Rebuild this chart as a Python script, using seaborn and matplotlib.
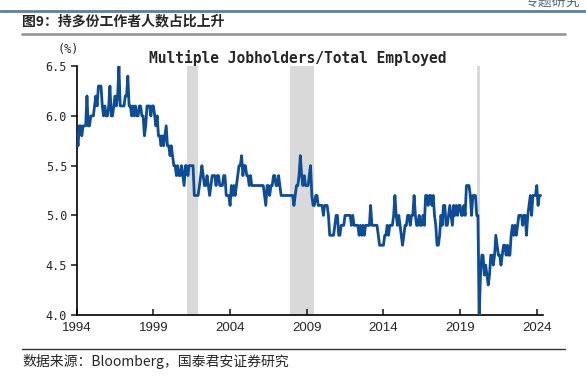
import pandas as pd
import matplotlib.pyplot as plt
import matplotlib.lines as mlines
import seaborn as sns

# monthly share of multiple jobholders in total employed (%)
y1994 = [5.8, 5.7, 5.9, 5.9, 5.8, 5.9, 5.9, 5.9, 6.2, 5.9, 5.9, 6.0]
y1995 = [6.0, 6.0, 6.1, 6.2, 6.1, 6.3, 6.3, 6.3, 6.1, 6.0, 6.1, 6.0]
y1996 = [6.0, 6.1, 6.3, 6.0, 6.0, 6.1, 6.2, 6.1, 6.2, 6.5, 6.1, 6.1]
y1997 = [6.1, 6.1, 6.2, 6.2, 6.4, 6.1, 6.1, 6.0, 6.1, 6.0, 6.1, 6.0]
y1998 = [6.0, 6.1, 6.1, 6.0, 6.0, 5.8, 5.9, 6.1, 6.1, 6.1, 6.0, 6.1]
y1999 = [6.1, 6.0, 5.9, 6.0, 5.8, 5.8, 5.7, 5.8, 5.7, 5.8, 5.9, 5.7]
y2000 = [5.7, 5.6, 5.7, 5.6, 5.5, 5.5, 5.4, 5.5, 5.4, 5.4, 5.5, 5.4]
y2001 = [5.3, 5.5, 5.5, 5.4, 5.5, 5.5, 5.5, 5.5, 5.2, 5.2, 5.2, 5.2]
y2002 = [5.3, 5.4, 5.5, 5.4, 5.3, 5.3, 5.4, 5.3, 5.2, 5.3, 5.4, 5.4]
y2003 = [5.4, 5.3, 5.4, 5.4, 5.3, 5.3, 5.3, 5.4, 5.4, 5.2, 5.2, 5.2]
y2004 = [5.1, 5.3, 5.2, 5.3, 5.2, 5.3, 5.4, 5.5, 5.5, 5.6, 5.4, 5.5]
y2005 = [5.5, 5.4, 5.4, 5.3, 5.4, 5.3, 5.3, 5.3, 5.3, 5.3, 5.3, 5.3]
y2006 = [5.3, 5.3, 5.3, 5.2, 5.1, 5.3, 5.3, 5.2, 5.3, 5.3, 5.4, 5.4]
y2007 = [5.3, 5.3, 5.4, 5.3, 5.2, 5.2, 5.2, 5.2, 5.2, 5.2, 5.2, 5.2]
y2008 = [5.2, 5.2, 5.1, 5.2, 5.3, 5.3, 5.4, 5.6, 5.4, 5.3, 5.4, 5.3]
y2009 = [5.3, 5.3, 5.4, 5.5, 5.2, 5.1, 5.1, 5.2, 5.2, 5.1, 5.1, 5.1]
y2010 = [5.1, 5.0, 5.1, 5.1, 5.1, 5.0, 4.8, 4.8, 4.8, 4.8, 4.9, 5.0]
y2011 = [5.0, 4.8, 4.8, 4.9, 4.9, 4.9, 5.0, 5.0, 5.0, 5.0, 5.0, 4.9]
y2012 = [5.0, 4.9, 4.9, 4.9, 4.9, 4.8, 4.9, 4.8, 4.9, 4.8, 4.9, 4.9]
y2013 = [4.9, 4.9, 5.1, 4.9, 4.9, 4.9, 4.9, 4.9, 4.8, 4.7, 4.7, 4.7]
y2014 = [4.7, 4.8, 4.8, 4.9, 4.8, 4.9, 4.9, 4.9, 5.0, 5.2, 5.0, 4.9]
y2015 = [5.0, 4.9, 4.8, 4.7, 4.8, 4.9, 4.9, 5.0, 5.0, 4.9, 5.0, 5.0]
y2016 = [5.2, 5.0, 4.9, 4.9, 5.0, 4.9, 4.9, 5.0, 4.9, 5.2, 5.2, 5.1]
y2017 = [5.2, 5.2, 5.1, 5.2, 5.0, 4.9, 4.7, 4.7, 4.8, 5.0, 4.9, 5.1]
y2018 = [5.1, 4.9, 4.9, 5.0, 5.1, 5.0, 4.9, 5.1, 5.0, 5.1, 5.0, 5.1]
y2019 = [5.1, 5.0, 5.0, 5.1, 5.0, 5.3, 5.3, 5.3, 5.2, 5.0, 5.2, 5.2]
y2020 = [5.2, 5.0, 5.0, 4.0, 4.4, 4.6, 4.6, 4.4, 4.5, 4.4, 4.3, 4.4]
y2021 = [4.6, 4.6, 4.5, 4.6, 4.8, 4.7, 4.6, 4.6, 4.5, 4.6, 4.7, 4.7]
y2022 = [4.6, 4.7, 4.6, 4.6, 4.8, 4.9, 4.8, 4.9, 4.8, 4.9, 5.0, 5.0]
y2023 = [5.0, 4.9, 5.0, 5.0, 4.8, 5.0, 5.1, 5.2, 5.0, 5.2, 5.2, 5.2]
y2024 = [5.3, 5.1, 5.2, 5.2]

values = (y1994 + y1995 + y1996 + y1997 + y1998 + y1999 + y2000 + y2001 + y2002
          + y2003 + y2004 + y2005 + y2006 + y2007 + y2008 + y2009 + y2010 + y2011
          + y2012 + y2013 + y2014 + y2015 + y2016 + y2017 + y2018 + y2019 + y2020
          + y2021 + y2022 + y2023 + y2024)

recessions = [('2001-03-01', '2001-11-30'), ('2007-12-01', '2009-06-30'), ('2020-02-01', '2020-04-30')]
tick_years = [1994, 1999, 2004, 2009, 2014, 2019, 2024]
y_ticks = [4.0, 4.5, 5.0, 5.5, 6.0, 6.5]

df = pd.DataFrame({'date': pd.date_range('1994-01-01', periods=len(values), freq='MS'),
                   'share': values})

sns.set_style('ticks')
plt.rcParams['font.family'] = ['Noto Sans CJK SC', 'DejaVu Sans']

fig = plt.figure(figsize=(5.86, 3.78), dpi=100)
ax = fig.add_axes([0.131, 0.167, 0.795, 0.658])

for start, end in recessions:
    ax.axvspan(pd.Timestamp(start), pd.Timestamp(end), color='#d9d9d9', lw=0, zorder=0)

sns.lineplot(data=df, x='date', y='share', ax=ax, color='#0d4c97', lw=2.0, zorder=3)

ax.set_xlim(pd.Timestamp('1994-01-01'), pd.Timestamp('2024-05-20'))
ax.set_ylim(4.0, 6.5)
ax.set_xticks([pd.Timestamp(f'{y}-01-01') for y in tick_years])
ax.set_xticklabels([str(y) for y in tick_years], family='Liberation Sans', fontsize=9.5)
ax.set_yticks(y_ticks)
ax.set_yticklabels([f'{v:.1f}' for v in y_ticks], family='DejaVu Sans Mono', fontsize=8.5)
ax.tick_params(axis='x', direction='in', length=4, width=1.2, pad=5)
ax.tick_params(axis='y', direction='out', length=4, width=1.2, pad=3)
ax.set_xlabel('')
ax.set_ylabel('')
sns.despine(ax=ax)
for s in ['left', 'bottom']:
    ax.spines[s].set_linewidth(1.2)
    ax.spines[s].set_color('black')

fig.text(0.508, 0.847, 'Multiple Jobholders/Total Employed', ha='center', va='center',
         family='DejaVu Sans Mono', fontweight='bold', fontsize=10.5)
fig.text(0.116, 0.870, '(%)', ha='center', va='center', family='DejaVu Sans Mono', fontsize=8.5)

# header / footer
fig.text(0.99, 0.995, '专题研究', ha='right', va='center', fontsize=10, color='#4d6b8a')
fig.add_artist(mlines.Line2D([0, 1], [0.972, 0.972], color='#5b7fa6', lw=2))
fig.text(0.0375, 0.944, '图9：持多份工作者人数占比上升', ha='left', va='center',
         fontsize=10, fontweight='bold')
fig.add_artist(mlines.Line2D([0.0375, 0.965], [0.910, 0.910], color='#9a9a9a', lw=2))
fig.add_artist(mlines.Line2D([0.0375, 0.965], [0.076, 0.076], color='#333333', lw=1))
fig.text(0.0375, 0.043, '数据来源：Bloomberg，国泰君安证券研究', ha='left', va='center', fontsize=10)

fig.savefig('out.png', dpi=100)
